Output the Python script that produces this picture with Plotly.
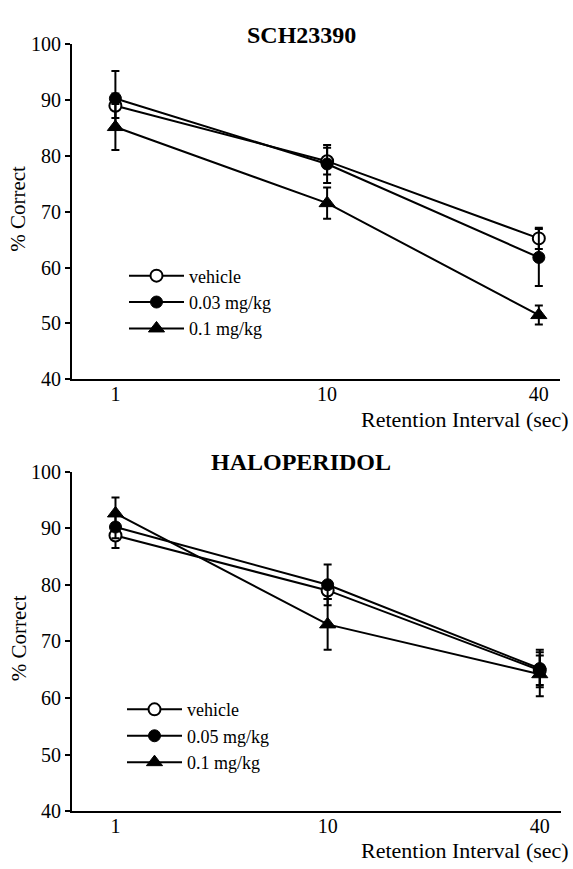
import plotly.graph_objects as go

# Retention intervals (s) shown as evenly spaced categories
intervals = ["1", "10", "40"]

# SCH23390 panel: mean % correct and SEM
sch_vehicle = [88.9, 79.0, 65.2]
sch_vehicle_err = [2.2, 2.4, 1.9]
sch_low = [90.2, 78.5, 61.8]
sch_low_err = [4.9, 3.4, 5.1]
sch_high = [85.1, 71.5, 51.5]
sch_high_err = [4.1, 2.8, 1.7]
sch_labels = ["vehicle", "0.03 mg/kg", "0.1 mg/kg"]

# Haloperidol panel: mean % correct and SEM
hal_vehicle = [88.7, 79.0, 64.9]
hal_vehicle_err = [2.2, 1.5, 2.6]
hal_low = [90.2, 80.0, 65.2]
hal_low_err = [2.0, 3.6, 3.3]
hal_high = [92.6, 73.0, 64.2]
hal_high_err = [2.8, 4.5, 3.9]
hal_labels = ["vehicle", "0.05 mg/kg", "0.1 mg/kg"]

y_ticks = [40, 50, 60, 70, 80, 90, 100]

W, H = 573, 869
FONT = "Liberation Serif"

def px_x(v):
    return v / W

def px_y(v):
    return 1 - v / H

fig = go.Figure()

styles = [
    dict(symbol="circle", size=12, color="white", line=dict(color="black", width=2)),
    dict(symbol="circle", size=12, color="black", line=dict(color="black", width=1)),
    dict(symbol="triangle-up", size=14, color="black", line=dict(color="black", width=1)),
]

def add_panel(series, errors, labels, xa, ya, legend):
    for vals, errs, name, mk in zip(series, errors, labels, styles):
        fig.add_trace(go.Scatter(
            x=intervals, y=vals, name=name, mode="lines+markers",
            xaxis=xa, yaxis=ya, legend=legend,
            line=dict(color="black", width=2),
            marker=mk,
            error_y=dict(type="data", array=errs, visible=True,
                         color="black", thickness=2, width=4),
        ))

add_panel([sch_vehicle, sch_low, sch_high],
          [sch_vehicle_err, sch_low_err, sch_high_err],
          sch_labels, "x", "y", "legend")
add_panel([hal_vehicle, hal_low, hal_high],
          [hal_vehicle_err, hal_low_err, hal_high_err],
          hal_labels, "x2", "y2", "legend2")

xaxis_common = dict(
    type="category", range=[-0.205, 2.1], showline=True, linecolor="black",
    linewidth=2, ticks="", showgrid=False, zeroline=False,
    ticklabelstandoff=-4,
    tickfont=dict(family=FONT, size=20, color="black"),
)
yaxis_common = dict(
    range=[40, 100], tickvals=y_ticks, showline=True, linecolor="black",
    linewidth=2, ticks="outside", ticklen=5, tickwidth=2, tickcolor="black",
    showgrid=False, zeroline=False,
    tickfont=dict(family=FONT, size=20, color="black"),
)

legend_common = dict(
    font=dict(family=FONT, size=18, color="black"),
    bgcolor="rgba(0,0,0,0)", borderwidth=0, xanchor="left", yanchor="middle",
    itemwidth=55, tracegroupgap=0,
)

fig.update_layout(
    width=W, height=H,
    margin=dict(l=0, r=0, t=0, b=0),
    paper_bgcolor="white", plot_bgcolor="white",
    xaxis=dict(domain=[px_x(72), px_x(560)], anchor="y", **xaxis_common),
    yaxis=dict(domain=[px_y(378), px_y(33.5)], anchor="x", **yaxis_common),
    xaxis2=dict(domain=[px_x(72), px_x(561)], anchor="y2", **xaxis_common),
    yaxis2=dict(domain=[px_y(821), px_y(472.5)], anchor="x2", **yaxis_common),
    legend=dict(x=px_x(124), y=px_y(299), **legend_common),
    legend2=dict(x=px_x(122), y=px_y(744), **legend_common),
    showlegend=True,
)

def paper_text(text, x, y, size, xanchor="center", angle=0):
    return dict(text=text, x=px_x(x), y=px_y(y), xref="paper", yref="paper",
                xanchor=xanchor, yanchor="middle", textangle=angle,
                showarrow=False, font=dict(family=FONT, size=size, color="black"))

annotations = [
    paper_text("<b>SCH23390</b>", 301, 25, 24),
    paper_text("<b>HALOPERIDOL</b>", 301, 463, 24),
    paper_text("% Correct", 18.5, 203.5, 21, angle=-90),
    paper_text("% Correct", 18.5, 644, 21, angle=-90),
    paper_text("Retention Interval (sec)", 571, 419, 22, xanchor="right"),
    paper_text("Retention Interval (sec)", 571, 861, 22, xanchor="right"),
    # significance mark for the 0.1 mg/kg SCH23390 group at 40 s
    dict(text="<b>+</b>", x="40", y=46.2, xref="x", yref="y", showarrow=False,
         xanchor="center", yanchor="middle",
         font=dict(family=FONT, size=20, color="black")),
]
fig.update_layout(annotations=annotations)

fig.write_html("out.html")
